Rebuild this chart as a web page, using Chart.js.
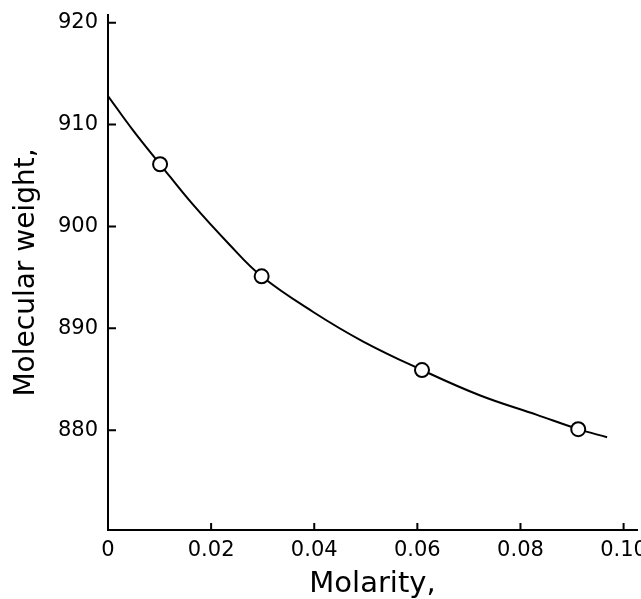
<!DOCTYPE html>
<html>
<head>
<meta charset="utf-8">
<script src="https://cdn.jsdelivr.net/npm/chart.js@4.4.0/dist/chart.umd.min.js"></script>
<style>
  body { margin: 0; background: #fff; }
  canvas { display: block; }
</style>
</head>
<body>
<canvas id="molarity-chart" width="641" height="599"></canvas>
<script>
// Values
const curveX = [0, 0.0049, 0.0101, 0.0162, 0.0234, 0.0298, 0.0398, 0.0495, 0.0609, 0.0722, 0.0832, 0.0912, 0.0968];
const curveY = [912.8, 909.4, 906.1, 902.3, 898.3, 895.1, 891.6, 888.7, 885.9, 883.4, 881.5, 880.1, 879.3];

const pointX = [0.0101, 0.0298, 0.0609, 0.0912];
const pointY = [906.1, 895.1, 885.9, 880.1];

const xTicks = [0, 0.02, 0.04, 0.06, 0.08, 0.10];
const yTicks = [880, 890, 900, 910, 920];

const FONT = "'DejaVu Sans', sans-serif";

// Ticks in the original point inwards, so draw them ourselves
const inwardTicks = {
    id: 'inwardTicks',
    afterDraw(chart) {
        const ctx = chart.ctx;
        const xs = chart.scales.x;
        const ys = chart.scales.y;
        ctx.save();
        ctx.strokeStyle = '#000';
        ctx.lineWidth = 2;
        ctx.beginPath();
        yTicks.forEach(v => {
            const py = ys.getPixelForValue(v);
            ctx.moveTo(xs.left, py);
            ctx.lineTo(xs.left + 8, py);
        });
        xTicks.forEach(v => {
            const px = xs.getPixelForValue(v);
            ctx.moveTo(px, ys.bottom);
            ctx.lineTo(px, ys.bottom - 7);
        });
        ctx.stroke();
        ctx.restore();
    }
};

const whiteBg = {
    id: 'whiteBg',
    beforeDraw(chart) {
        const ctx = chart.ctx;
        ctx.save();
        ctx.fillStyle = '#fff';
        ctx.fillRect(0, 0, chart.width, chart.height);
        ctx.restore();
    }
};

const ctx = document.getElementById('molarity-chart').getContext('2d');

new Chart(ctx, {
    type: 'scatter',
    data: {
        datasets: [
            {
                label: 'Measured',
                data: pointX.map((x, i) => ({ x: x, y: pointY[i] })),
                pointRadius: 7,
                pointBackgroundColor: '#fff',
                pointBorderColor: '#000',
                pointBorderWidth: 2,
                order: 0
            },
            {
                label: 'Fit',
                data: curveX.map((x, i) => ({ x: x, y: curveY[i] })),
                showLine: true,
                borderColor: '#000',
                borderWidth: 2,
                pointRadius: 0,
                tension: 0.4,
                fill: false,
                order: 1
            }
        ]
    },
    options: {
        responsive: false,
        animation: false,
        layout: {
            autoPadding: false,
            padding: { top: 15, right: 4, left: 0, bottom: 0 }
        },
        plugins: {
            legend: { display: false },
            tooltip: { enabled: false }
        },
        scales: {
            x: {
                type: 'linear',
                min: 0,
                max: 0.1026,
                afterBuildTicks: scale => { scale.ticks = xTicks.map(v => ({ value: v })); },
                afterFit: scale => {
                    scale.height = 69;
                    scale.paddingLeft = 0;
                    scale.paddingRight = 0;
                },
                border: { color: '#000', width: 2 },
                grid: { display: false, drawTicks: false },
                ticks: {
                    color: '#000',
                    padding: 8,
                    maxRotation: 0,
                    font: { family: FONT, size: 21 },
                    callback: v => v === 0 ? '0' : v.toFixed(2)
                },
                title: {
                    display: true,
                    text: 'Molarity,',
                    color: '#000',
                    font: { family: FONT, size: 29, lineHeight: 1 },
                    padding: { top: 4, bottom: 0 }
                }
            },
            y: {
                type: 'linear',
                min: 870.2,
                max: 920.75,
                afterBuildTicks: scale => { scale.ticks = yTicks.map(v => ({ value: v })); },
                afterFit: scale => {
                    scale.width = 108;
                    scale.paddingTop = 0;
                    scale.paddingBottom = 0;
                },
                border: { color: '#000', width: 2 },
                grid: { display: false, drawTicks: false },
                ticks: {
                    color: '#000',
                    padding: 10,
                    font: { family: FONT, size: 21 }
                },
                title: {
                    display: true,
                    text: 'Molecular weight,',
                    color: '#000',
                    font: { family: FONT, size: 28 },
                    padding: { top: 10, bottom: 0 }
                }
            }
        }
    },
    plugins: [whiteBg, inwardTicks]
});
</script>
</body>
</html>
